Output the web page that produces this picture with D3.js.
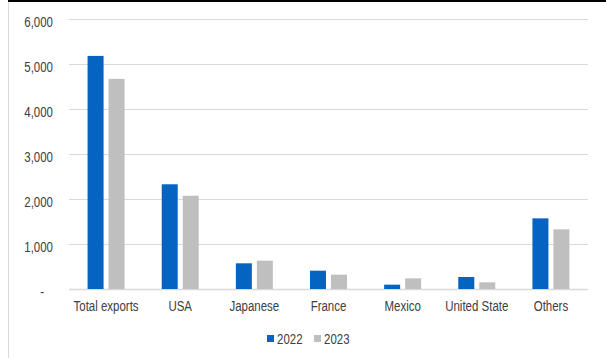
<!DOCTYPE html>
<html>
<head>
<meta charset="utf-8">
<script src="https://cdn.jsdelivr.net/npm/d3@7/dist/d3.min.js"></script>
<style>
  html, body { margin: 0; padding: 0; background: #fff; }
  svg { display: block; font-family: "Liberation Sans", Arial, sans-serif; }
</style>
</head>
<body>
<svg id="chart" width="606" height="358"></svg>
<script>
// Export values by destination, 2022 vs 2023
const categories = ["Total exports", "USA", "Japanese", "France", "Mexico", "United State", "Others"];
const values2022 = [5180, 2327, 571, 407, 96, 267, 1570];
const values2023 = [4670, 2073, 629, 318, 237, 148, 1326];
const seriesNames = ["2022", "2023"];
const seriesColors = ["#0563C1", "#BFBFBF"];
const yTicks = [0, 1000, 2000, 3000, 4000, 5000, 6000];

const FONT = "'Liberation Sans', Arial, sans-serif";
const TEXT = "#404040";
const NARROW = "scale(0.82,1)"; // condensed lettering

const svg = d3.select("#chart");
const margin = { left: 69, right: 18, top: 19, bottom: 69 };
const W = 606, H = 358;

const x = d3.scaleBand().domain(categories).range([margin.left, W - margin.right]).paddingInner(0).paddingOuter(0);
const y = d3.scaleLinear().domain([0, 6000]).range([H - margin.bottom, margin.top]);

// frame edges
svg.append("line").attr("x1", 8.5).attr("x2", 8.5).attr("y1", 0).attr("y2", H)
  .attr("stroke", "#D9D9D9").attr("stroke-width", 1);
svg.append("line").attr("x1", 8).attr("x2", W).attr("y1", 1).attr("y2", 1)
  .attr("stroke", "#000").attr("stroke-width", 2);

// gridlines
svg.append("g").selectAll("line").data(yTicks).join("line")
  .attr("x1", margin.left).attr("x2", W - margin.right)
  .attr("y1", d => Math.round(y(d)) + 0.5).attr("y2", d => Math.round(y(d)) + 0.5)
  .attr("stroke", "#D9D9D9").attr("stroke-width", d => d === 0 ? 1.5 : 1);

// y axis labels
const fmt = d => d === 0 ? "-" : d3.format(",")(d);
const yAxis = d3.axisLeft(y).tickValues(yTicks).tickFormat(fmt).tickSize(0).tickPadding(0);
const gy = svg.append("g").attr("transform", `translate(53,0)`).call(yAxis);
gy.select(".domain").remove();
gy.selectAll("text").attr("fill", TEXT).attr("font-size", 14)
  .attr("font-family", FONT)
  .attr("dy", "0.5em")
  .attr("dx", d => d === 0 ? -11 : 0)
  .attr("transform", NARROW);

// bars
const barW = 16, gap = 5;
const series = [values2022, values2023];
series.forEach((vals, si) => {
  svg.append("g").selectAll("rect").data(categories).join("rect")
    .attr("x", (c) => x(c) + x.bandwidth() / 2 - barW - gap / 2 + si * (barW + gap))
    .attr("width", barW)
    .attr("y", (c, i) => y(vals[i]))
    .attr("height", (c, i) => y(0) - y(vals[i]))
    .attr("fill", seriesColors[si]);
});

// category axis labels
const xAxis = d3.axisBottom(x).tickSize(0).tickPadding(0);
const gx = svg.append("g").attr("transform", `translate(0,311)`).call(xAxis);
gx.select(".domain").remove();
gx.selectAll("text").attr("fill", TEXT).attr("font-size", 14)
  .attr("font-family", FONT).attr("dy", 0).attr("transform", NARROW);

// legend
const legend = svg.append("g").attr("transform", "translate(267,339)");
const legendItems = legend.selectAll("g").data(seriesNames).join("g")
  .attr("transform", (d, i) => `translate(${i * 47},0)`);
legendItems.append("rect").attr("x", 0).attr("y", -4).attr("width", 7).attr("height", 7)
  .attr("fill", (d, i) => seriesColors[i]);
legendItems.append("text").attr("x", 0).attr("y", 0).attr("dy", "0.35em")
  .attr("transform", `translate(10,0) ${NARROW}`)
  .attr("fill", TEXT).attr("font-size", 14).attr("font-family", FONT).text(d => d);
</script>
</body>
</html>
